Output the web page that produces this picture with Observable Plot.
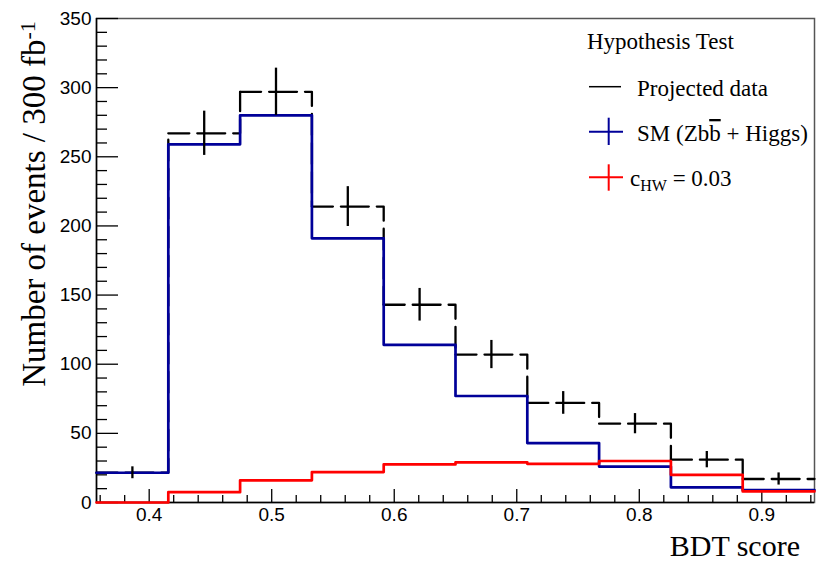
<!DOCTYPE html>
<html><head><meta charset="utf-8">
<script src="https://cdn.jsdelivr.net/npm/d3@7"></script>
<script src="https://cdn.jsdelivr.net/npm/@observablehq/plot@0.6"></script>
<style>
body{margin:0;background:#fff;}
#wrap{position:relative;width:823px;height:565px;}
</style></head><body><div id="wrap"></div>
<script>
// ---- data ----
const binEdges = [0.357, 0.4156, 0.4742, 0.5328, 0.5914, 0.65, 0.7086, 0.7672, 0.8258, 0.8844, 0.943];
const projectedData = [21.5, 267, 297, 214, 143, 107, 72, 57, 31, 17];
const projectedErr  = [4.3, 16, 17.1, 14.4, 11.8, 10.2, 8.2, 7.3, 5.9, 4.4];
const smValues      = [21.5, 259, 280, 191, 114, 77, 43, 26, 11, 9];
const chwValues     = [0, 7.5, 16, 22, 27.5, 29, 28, 30, 20, 8];
const yMajorTicks = [0, 50, 100, 150, 200, 250, 300, 350];
const yMinorTicks = [10,20,30,40,60,70,80,90,110,120,130,140,160,170,180,190,210,220,230,240,260,270,280,290,310,320,330,340];
const xMajorTicks = [0.4, 0.5, 0.6, 0.7, 0.8, 0.9];
const xMinorTicks = [0.36,0.38,0.42,0.44,0.46,0.48,0.52,0.54,0.56,0.58,0.62,0.64,0.66,0.68,0.72,0.74,0.76,0.78,0.82,0.84,0.86,0.88,0.92,0.94];
const legendTitle = "Hypothesis Test";
const seriesNames = ["Projected data", "SM", "c"];

const colBlue = "#000099", colRed = "#ff0000";

const n = projectedData.length;
const centers = projectedData.map((_, i) => (binEdges[i] + binEdges[i + 1]) / 2);

function stepPoints(vals) {
  const pts = [];
  vals.forEach((v, i) => { pts.push({x: binEdges[i], y: v}); pts.push({x: binEdges[i + 1], y: v}); });
  return pts;
}
const dataSegs = [];
projectedData.forEach((v, i) => {
  const c = centers[i];
  dataSegs.push({x: binEdges[i], y: v, g: "L" + i}, {x: c, y: v, g: "L" + i});
  dataSegs.push({x: c, y: v, g: "R" + i}, {x: binEdges[i + 1], y: v, g: "R" + i});
  if (i < n - 1) dataSegs.push({x: binEdges[i + 1], y: projectedData[i + 1], g: "R" + i});
});
const errRows = projectedData.map((v, i) => ({x: centers[i], y1: v - projectedErr[i], y2: v + projectedErr[i]}));

const W = 823, H = 565, mL = 96, mR = 9, mT = 18, mB = 63;
const frameW = W - mL - mR, frameH = H - mT - mB;

const plot = Plot.plot({
  width: W, height: H,
  marginLeft: mL, marginRight: mR, marginTop: mT, marginBottom: mB,
  style: {fontFamily: "'Liberation Sans', Arial, sans-serif", fontSize: "19px", background: "#fff", color: "#000"},
  x: {domain: [binEdges[0], binEdges[n]]},
  y: {domain: [0, 350]},
  marks: [
    Plot.frame({stroke: "#555", strokeWidth: 1.5}),
    Plot.ruleY(yMajorTicks, {stroke: "#000", strokeWidth: 1.3, insetRight: frameW - 22}),
    Plot.ruleY(yMinorTicks, {stroke: "#000", strokeWidth: 1.3, insetRight: frameW - 11}),
    Plot.ruleX(xMajorTicks, {stroke: "#000", strokeWidth: 1.3, insetTop: frameH - 13}),
    Plot.ruleX(xMinorTicks, {stroke: "#000", strokeWidth: 1.3, insetTop: frameH - 7}),
    Plot.ruleY([0], {stroke: "#000", strokeWidth: 1.5}),
    Plot.ruleX([binEdges[0]], {stroke: "#000", strokeWidth: 1.5}),
    Plot.axisY({ticks: yMajorTicks, tickSize: 0, tickPadding: 5, label: null, fontSize: 19}),
    Plot.axisX({ticks: xMajorTicks, tickSize: 0, tickPadding: 5, label: null, fontSize: 19, tickFormat: d3.format(".1f")}),
    Plot.line(dataSegs, {x: "x", y: "y", z: "g", stroke: "#000", strokeWidth: 2.3, strokeDasharray: "21 8"}),
    Plot.line(stepPoints(smValues), {x: "x", y: "y", stroke: colBlue, strokeWidth: 2.7}),
    Plot.line(stepPoints(chwValues), {x: "x", y: "y", stroke: colRed, strokeWidth: 2.7}),
    Plot.ruleX(errRows, {x: "x", y1: "y1", y2: "y2", stroke: "#000", strokeWidth: 2.3})
  ]
});

const svg = d3.select(plot);
const serif = "'Liberation Serif', 'Times New Roman', serif";

// axis titles
const yt = svg.append("text")
  .attr("transform", "translate(45,204) rotate(-90)")
  .attr("text-anchor", "middle")
  .style("font-family", serif).style("font-size", "33px").attr("fill", "#000");
yt.append("tspan").text("Number of events / 300 fb");
yt.append("tspan").attr("dy", "-0.45em").style("font-size", "22px").text("-1");

svg.append("text").attr("x", 800).attr("y", 556)
  .attr("text-anchor", "end")
  .style("font-family", serif).style("font-size", "30px").attr("fill", "#000")
  .text("BDT score");

// legend
const lg = svg.append("g").attr("text-anchor", "start").style("font-family", serif).style("font-size", "23px").attr("fill", "#000");
lg.append("text").attr("x", 587).attr("y", 49).text(legendTitle);
lg.append("line").attr("x1", 589).attr("x2", 621).attr("y1", 86.7).attr("y2", 86.7).attr("stroke", "#000").attr("stroke-width", 1.5);
lg.append("text").attr("x", 637).attr("y", 96).text(seriesNames[0]);

lg.append("line").attr("x1", 589).attr("x2", 623).attr("y1", 131.7).attr("y2", 131.7).attr("stroke", colBlue).attr("stroke-width", 2);
lg.append("line").attr("x1", 608.7).attr("x2", 608.7).attr("y1", 117.7).attr("y2", 145).attr("stroke", colBlue).attr("stroke-width", 2);
const t2 = lg.append("text").attr("x", 637).attr("y", 141);
t2.append("tspan").text("SM (Zb");
t2.append("tspan").style("text-decoration", "overline").text("b");
t2.append("tspan").text(" + Higgs)");

lg.append("line").attr("x1", 589).attr("x2", 623).attr("y1", 177.3).attr("y2", 177.3).attr("stroke", colRed).attr("stroke-width", 2);
lg.append("line").attr("x1", 608.7).attr("x2", 608.7).attr("y1", 164.3).attr("y2", 190.7).attr("stroke", colRed).attr("stroke-width", 2);
const t3 = lg.append("text").attr("x", 630).attr("y", 186);
t3.append("tspan").text("c");
t3.append("tspan").attr("dy", "5").style("font-size", "16px").text("HW");
t3.append("tspan").attr("dy", "-5").text(" = 0.03");

document.getElementById("wrap").appendChild(plot);
</script></body></html>
